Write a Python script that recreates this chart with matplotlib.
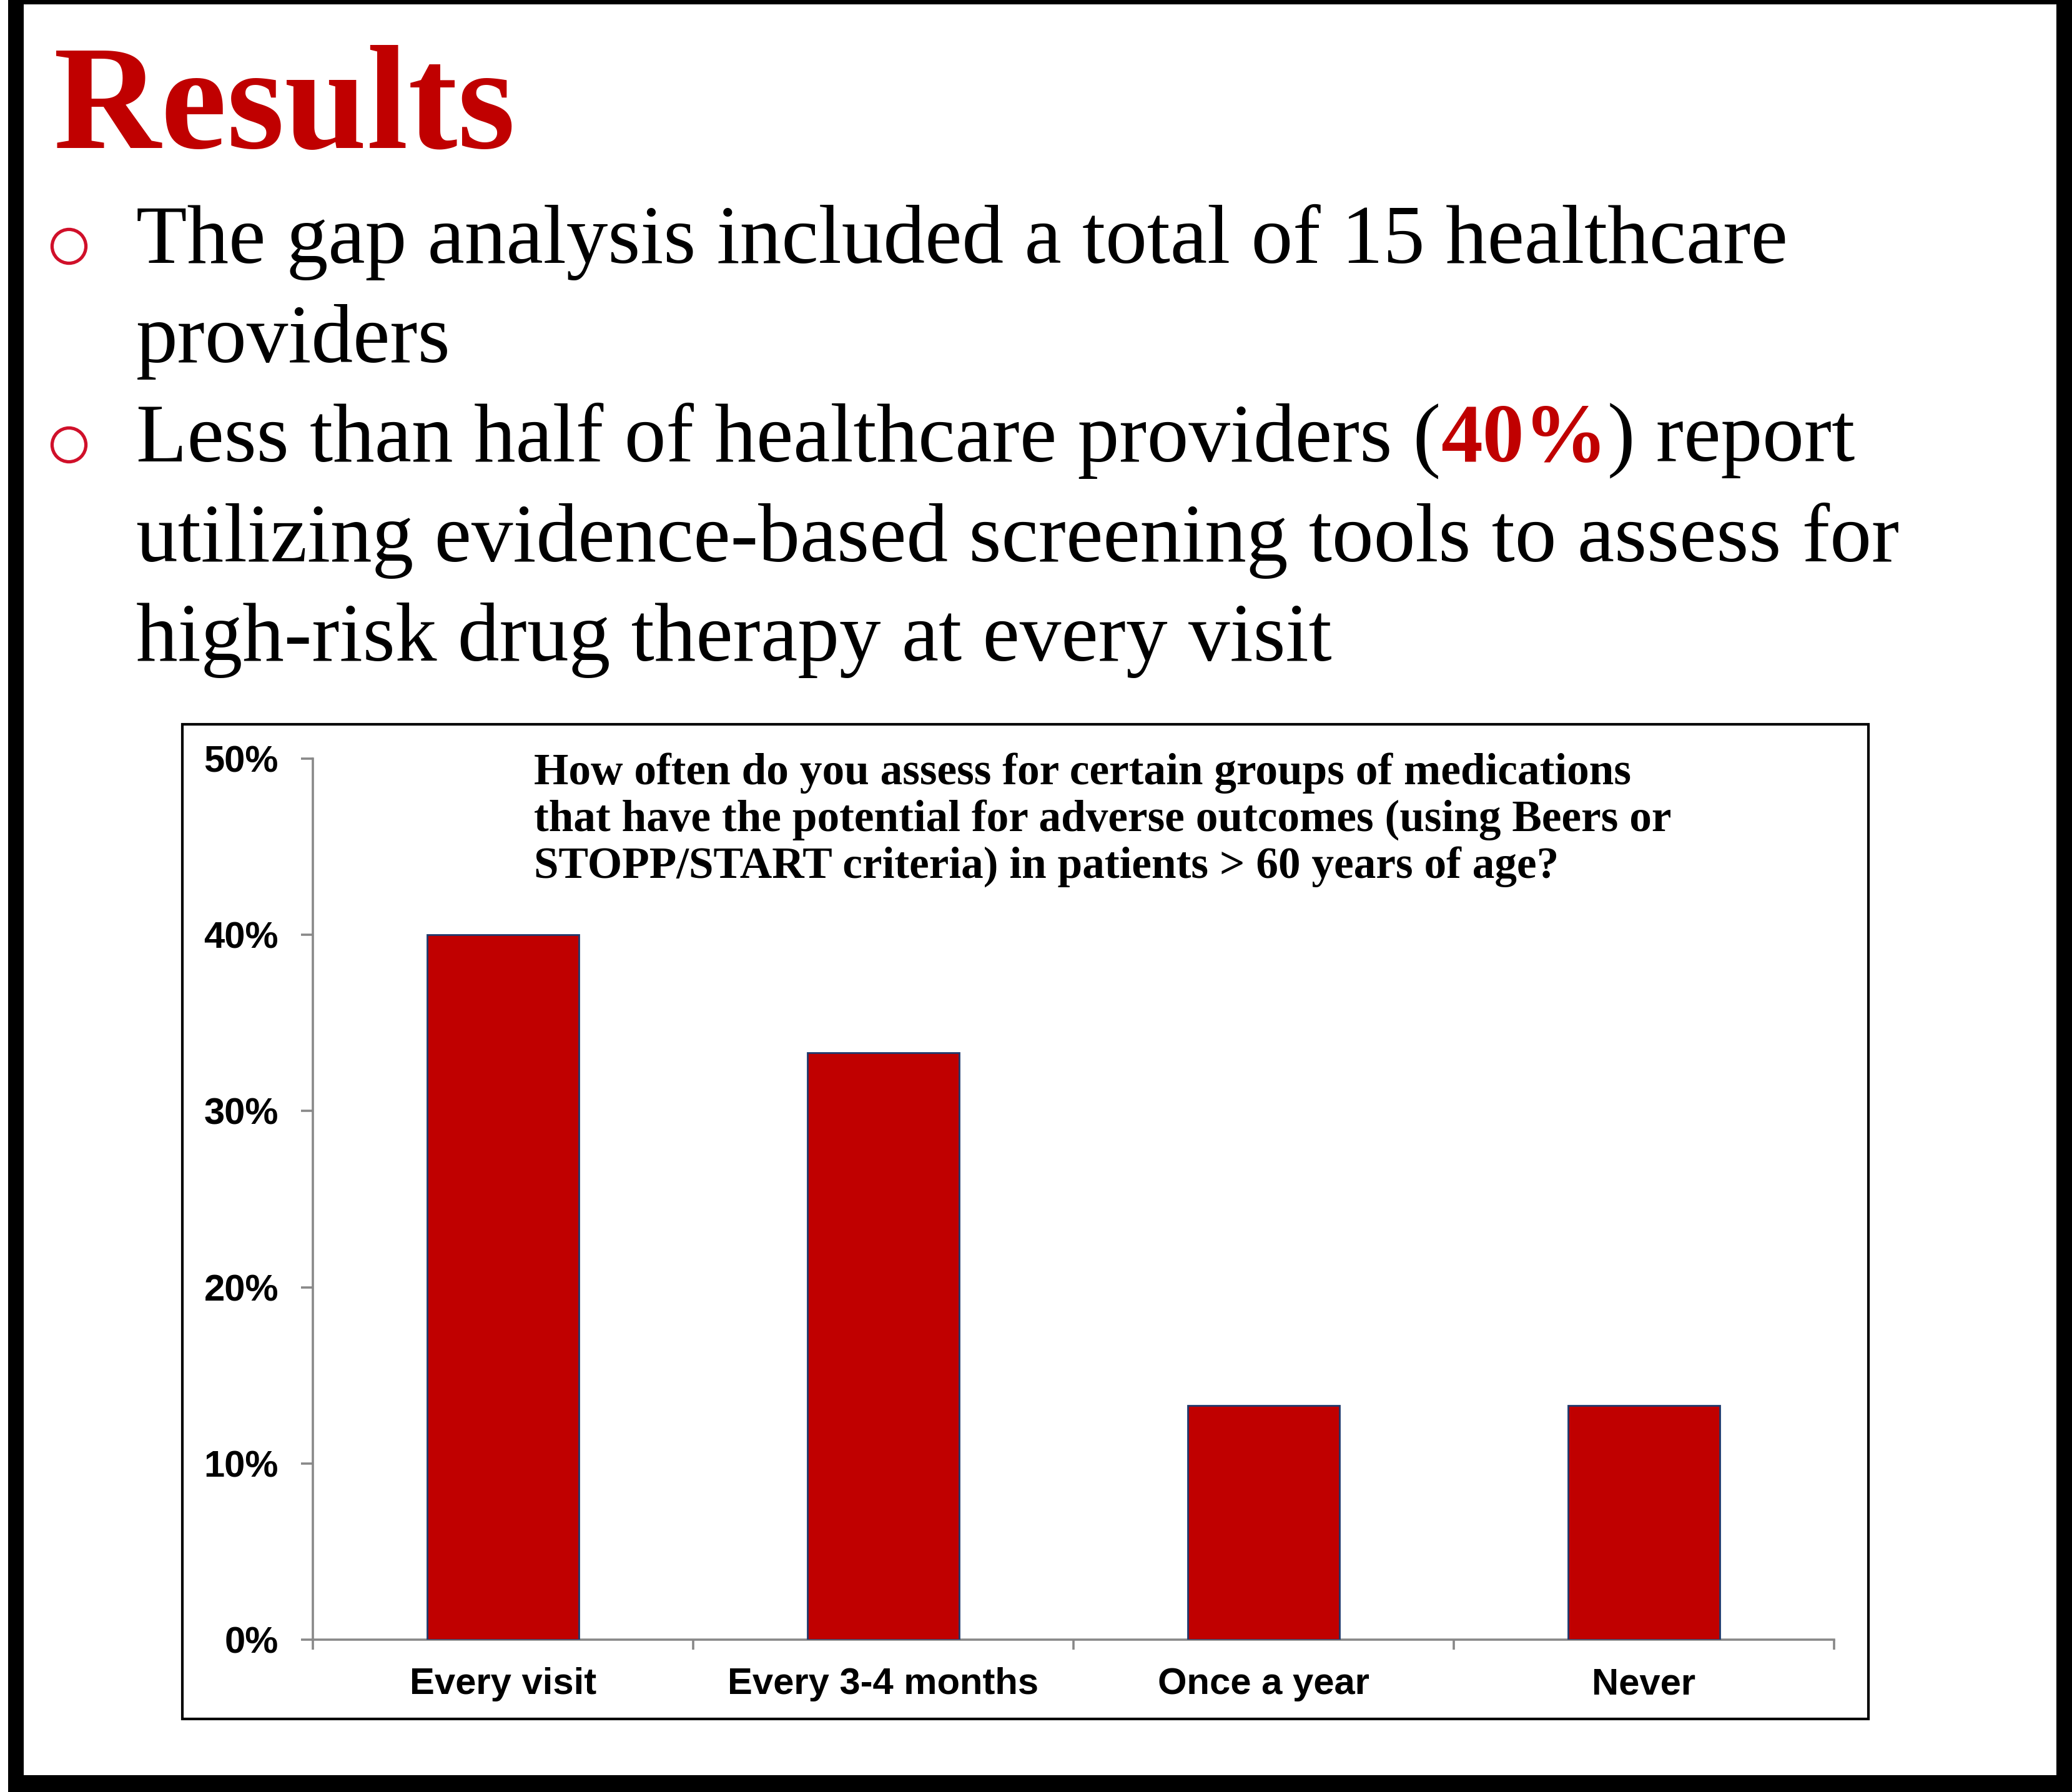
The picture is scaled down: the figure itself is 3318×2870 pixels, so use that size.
import matplotlib
matplotlib.use("Agg")
import matplotlib.pyplot as plt
from matplotlib.patches import Rectangle
from matplotlib.lines import Line2D

# data
categories = ['Every visit', 'Every 3-4 months', 'Once a year', 'Never']
percent = [40.0, 33.3, 13.3, 13.3]
yticks = [0, 10, 20, 30, 40, 50]

heading = "Results"
bullet1 = ["The gap analysis included a total of 15 healthcare", "providers"]
bullet2_pre = "Less than half of healthcare providers ("
bullet2_hi = "40%"
bullet2_post = ") report"
bullet2_rest = ["utilizing evidence-based screening tools to assess for",
                "high-risk drug therapy at every visit"]
chart_title = ["How often do you assess for certain groups of medications",
               "that have the potential for adverse outcomes (using Beers or",
               "STOPP/START criteria) in patients > 60 years of age?"]

W, H = 3318, 2870
RED = '#C00000'
SERIF = 'Liberation Serif'
SANS = 'Liberation Sans'

fig = plt.figure(figsize=(W / 100, H / 100), dpi=100)
fig.patch.set_facecolor('white')


def fx(x):
    return x / W


def fy(y):
    return 1 - y / H


# thick black frame round the slide
for (x0, y0, x1, y1) in [(13, 0, W, 7), (13, 0, 38, H), (3293, 0, W, H), (13, 2843, W, H)]:
    fig.add_artist(Rectangle((fx(x0), fy(y1)), fx(x1) - fx(x0), fy(y0) - fy(y1),
                             transform=fig.transFigure, facecolor='black',
                             edgecolor='none', zorder=5))

# heading
fig.text(fx(86), fy(237), heading, fontsize=171, fontweight='bold', family=SERIF,
         color=RED, va='baseline', ha='left')

# bullets
TX = 218
base = [421, 580, 739, 899, 1058]
for yb in (394, 712):
    fig.add_artist(Line2D([fx(110)], [fy(yb)], transform=fig.transFigure, marker='o',
                          markersize=39, markerfacecolor='none', markeredgecolor='#D0102A',
                          markeredgewidth=3.8, linestyle='none'))

fig.text(fx(TX), fy(base[0]), bullet1[0], fontsize=96, family=SERIF, va='baseline')
fig.text(fx(TX), fy(base[1]), bullet1[1], fontsize=96, family=SERIF, va='baseline')

renderer = fig.canvas.get_renderer()
t1 = fig.text(fx(TX), fy(base[2]), bullet2_pre, fontsize=96, family=SERIF, va='baseline')
x_next = t1.get_window_extent(renderer).x1
t2 = fig.text(x_next / W, fy(base[2]), bullet2_hi, fontsize=96, family=SERIF,
              fontweight='bold', color=RED, va='baseline')
x_next = t2.get_window_extent(renderer).x1
fig.text(x_next / W, fy(base[2]), bullet2_post, fontsize=96, family=SERIF, va='baseline')
fig.text(fx(TX), fy(base[3]), bullet2_rest[0], fontsize=96, family=SERIF, va='baseline')
fig.text(fx(TX), fy(base[4]), bullet2_rest[1], fontsize=96, family=SERIF, va='baseline')

# chart box
fig.add_artist(Rectangle((fx(292), fy(2753)), fx(2992) - fx(292), fy(1160) - fy(2753),
                         transform=fig.transFigure, facecolor='none',
                         edgecolor='black', linewidth=3.0, zorder=1))

ax = fig.add_axes([fx(501), fy(2626), fx(2937) - fx(501), fy(1215) - fy(2626)])
ax.set_facecolor('none')
xpos = list(range(len(categories)))
ax.bar(xpos, percent, width=0.4, color=RED, edgecolor='#1F3A6E', linewidth=2.0, zorder=3)

ax.set_xlim(-0.5, len(categories) - 0.5)
ax.set_ylim(0, 50)
for s in ['top', 'right']:
    ax.spines[s].set_visible(False)
for s in ['left', 'bottom']:
    ax.spines[s].set_color('#888888')
    ax.spines[s].set_linewidth(2.6)

ax.set_yticks(yticks)
ax.set_yticklabels([f'{v}%' for v in yticks], fontsize=43, fontweight='bold', family=SANS)
ax.tick_params(axis='y', length=13.5, width=2.6, color='#888888', pad=26)

ax.set_xticks([i - 0.5 for i in range(len(categories) + 1)])
ax.set_xticklabels([])
ax.set_xticks(xpos, minor=True)
ax.set_xticklabels(categories, minor=True, fontsize=43, fontweight='bold', family=SANS)
ax.tick_params(axis='x', which='major', length=11.5, width=2.6, color='#888888')
ax.tick_params(axis='x', which='minor', length=0, pad=32)

for i, line in enumerate(chart_title):
    fig.text(fx(855), fy(1256 + 75 * i), line, fontsize=51.3, fontweight='bold',
             family=SERIF, va='baseline')

fig.savefig('out.png', dpi=100, facecolor='white')
